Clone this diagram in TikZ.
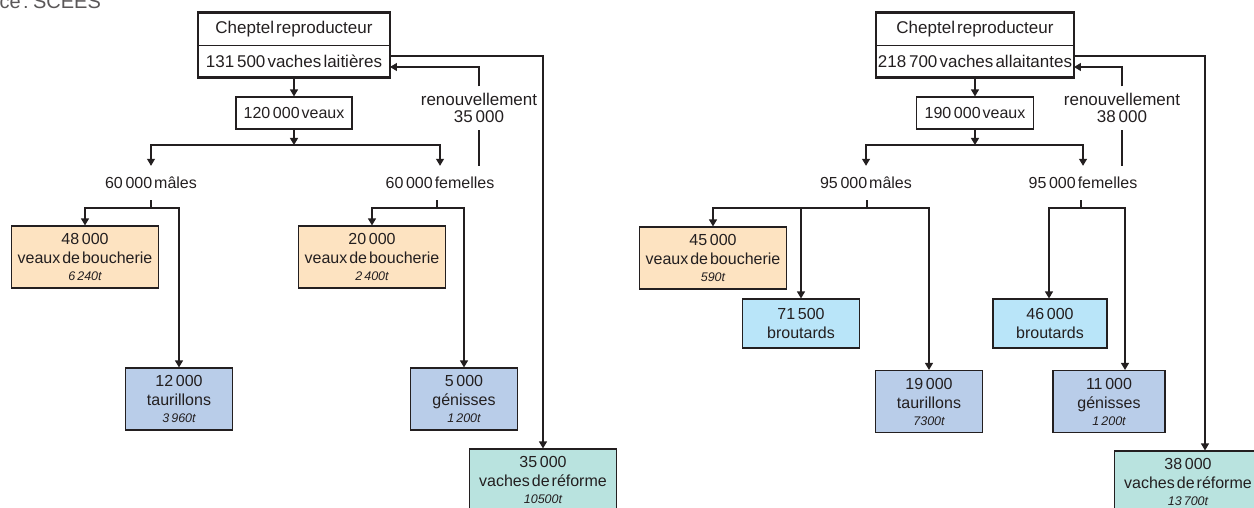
\documentclass[tikz,border=0pt]{standalone}
\usepackage{fontspec}
\setmainfont{Liberation Sans}[WordSpace=0.45]
\usepackage{tikz}
\usetikzlibrary{arrows.meta, positioning}
\usepackage{xcolor}
\definecolor{ink}{RGB}{35,31,32}
\definecolor{peach}{RGB}{253,227,193}
\definecolor{paleblue}{RGB}{185,229,249}
\definecolor{greyblue}{RGB}{185,205,233}
\definecolor{seagreen}{RGB}{185,227,223}
\tikzset{peachnode/.style={rectangle, fill=peach, draw=ink, line width=1.1pt, minimum width=147pt, minimum height=62pt, inner sep=0pt, align=center},greybluenode/.style={rectangle, fill=greyblue, draw=ink, line width=1.1pt, minimum width=107pt, minimum height=62pt, inner sep=0pt, align=center}}
\tikzset{paleBluenode/.style={rectangle, fill=paleblue, draw=ink, line width=1.1pt, minimum width=117pt, minimum height=49pt, inner sep=0pt, align=center},seagreennode/.style={rectangle, fill=seagreen, draw=ink, line width=1.1pt, minimum width=147pt, minimum height=62pt, inner sep=0pt, align=center}}
\newcommand{\tonnage}[1]{{\fontsize{12.5}{14}\selectfont\itshape #1}}

\begin{document}
\begin{tikzpicture}[
        x=1pt, y=-1pt,
        text=ink,
        font=\fontsize{16}{19}\selectfont,
        headnode/.style={rectangle, draw=ink, line width=0.9pt, minimum width=191pt, minimum height=32pt, inner sep=0pt, font=\fontsize{17}{20}\selectfont},
        calfnode/.style={rectangle, draw=ink, line width=1.1pt, minimum width=116pt, minimum height=32pt, inner sep=0pt},
        countlabel/.style={inner sep=0pt, minimum height=34pt},
        renewlabel/.style={inner sep=0pt, minimum height=43pt, align=center, font=\fontsize{17}{17}\selectfont},
        frame/.style={draw=ink, line width=2.4pt},
        link/.style={draw=ink, line width=1.2pt},
        arrow/.style={link, -{Triangle[width=8pt,length=7pt]}}
    ]
        \useasboundingbox (0,0) rectangle (1254,508);
        % Source
        \node[anchor=base west, text=ink!75, font=\fontsize{20}{24}\selectfont] (src) at (-4,9) {ce : SCEES};
        % Dairy herd: heads
        \node[headnode] (chepL) at (294,29) {Cheptel reproducteur};
        \node[headnode] (vachL) at (294,61) {131\,500 vaches laitières};
        \draw[frame] (chepL.north west) rectangle (vachL.south east);
        \node[calfnode] (veauxL) at (294,113) {120\,000 veaux};
        \node[countlabel] (maleL) at (151,183) {60\,000 mâles};
        \node[countlabel] (femL) at (440,183) {60\,000 femelles};
        \node[renewlabel] (renL) at (479,108) {renouvellement\\35\,000};
        % Dairy herd: boxes
        \node[peachnode] (veauL) at (85,257) {48\,000\\veaux de boucherie\\[-2pt]\tonnage{6\,240t}};
        \node[greybluenode] (tauL) at (179,399) {12\,000\\taurillons\\[-2pt]\tonnage{3\,960t}};
        \node[peachnode] (veauF) at (372,257) {20\,000\\veaux de boucherie\\[-2pt]\tonnage{2\,400t}};
        \node[greybluenode] (genL) at (464,399) {5\,000\\génisses\\[-2pt]\tonnage{1\,200t}};
        \node[seagreennode] (refL) at (543,480) {35\,000\\vaches de réforme\\[-2pt]\tonnage{10500t}};
        % Dairy herd: links
        \coordinate (jL) at (294,145);
        \coordinate (jML) at (151,208);
        \coordinate (jFL) at (437,208);
        \draw[arrow] (vachL.south) -- (veauxL.north);
        \draw[arrow] (veauxL.south) -- (jL);
        \draw[arrow] (jL) -| (maleL.north);
        \draw[arrow] (jL) -| (femL.north);
        \draw[link] (maleL.south) -- (jML);
        \draw[arrow] (jML) -| (veauL.north);
        \draw[arrow] (jML) -| (tauL.north);
        \draw[link] (femL.south -| jFL) -- (jFL);
        \draw[arrow] (jFL) -| (veauF.north);
        \draw[arrow] (jFL) -| (genL.north);
        \draw[link] (femL.north -| renL.south) -- (renL.south);
        \draw[arrow] (renL.north) |- ([yshift=-6pt]vachL.east);
        \draw[arrow] ([yshift=5pt]vachL.east) -| (refL.north);
        % Suckler herd: heads
        \node[headnode, minimum width=197pt] (chepR) at (975,29) {Cheptel reproducteur};
        \node[headnode, minimum width=197pt] (vachR) at (975,61) {218\,700 vaches allaitantes};
        \draw[frame] (chepR.north west) rectangle (vachR.south east);
        \node[calfnode, minimum width=117pt] (veauxR) at (975,113) {190\,000 veaux};
        \node[countlabel] (maleR) at (866,183) {95\,000 mâles};
        \node[countlabel] (femR) at (1083,183) {95\,000 femelles};
        \node[renewlabel] (renR) at (1122,108) {renouvellement\\38\,000};
        % Suckler herd: boxes
        \node[peachnode] (veauR) at (713,258) {45\,000\\veaux de boucherie\\[-2pt]\tonnage{590t}};
        \node[paleBluenode] (broM) at (801,323.5) {71\,500\\broutards};
        \node[greybluenode] (tauR) at (929,401.5) {19\,000\\taurillons\\[-2pt]\tonnage{7300t}};
        \node[paleBluenode, minimum width=114pt] (broF) at (1050,323.5) {46\,000\\broutards};
        \node[greybluenode, minimum width=112pt] (genR) at (1109,401.5) {11\,000\\génisses\\[-2pt]\tonnage{1\,200t}};
        \node[seagreennode] (refR) at (1188,482) {38\,000\\vaches de réforme\\[-2pt]\tonnage{13\,700t}};
        % Suckler herd: links
        \coordinate (jR) at (975,145);
        \coordinate (jMR) at (867,208);
        \coordinate (jFR) at (1081,208);
        \draw[arrow] (vachR.south) -- (veauxR.north);
        \draw[arrow] (veauxR.south) -- (jR);
        \draw[arrow] (jR) -| (maleR.north);
        \draw[arrow] (jR) -| (femR.north);
        \draw[link] (maleR.south -| jMR) -- (jMR);
        \draw[arrow] (jMR) -| (veauR.north);
        \draw[arrow] (jMR) -| (broM.north);
        \draw[arrow] (jMR) -| (tauR.north);
        \draw[link] (femR.south -| jFR) -- (jFR);
        \draw[arrow] (jFR) -| ([xshift=-1pt]broF.north);
        \draw[arrow] (jFR) -| ([xshift=16pt]genR.north);
        \draw[link] (femR.north -| renR.south) -- (renR.south);
        \draw[arrow] (renR.north) |- ([yshift=-6pt]vachR.east);
        \draw[arrow] ([yshift=5pt]vachR.east) -| ([xshift=17pt]refR.north);
    \end{tikzpicture}
\end{document}
